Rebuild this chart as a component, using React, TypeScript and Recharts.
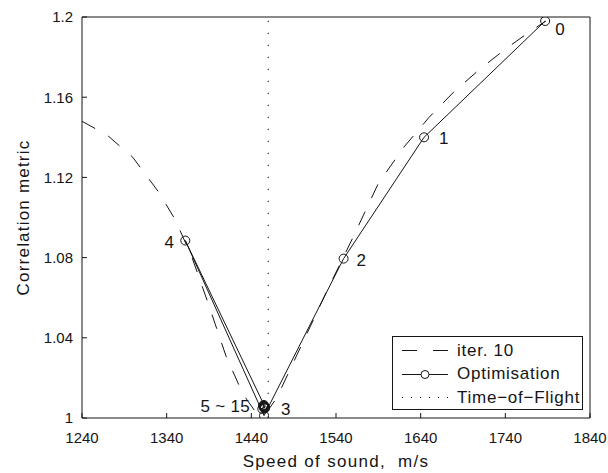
import { LineChart, Line, XAxis, YAxis, ReferenceLine, Legend, LabelList, Label } from 'recharts';

const FONT = "'Liberation Sans', Arial, Helvetica, sans-serif";
const INK = '#151515';

const xTicks = [1240, 1340, 1440, 1540, 1640, 1740, 1840];
const yTicks = [1, 1.04, 1.08, 1.12, 1.16, 1.2];

// metric sweep after 10 iterations (dashed curve)
const iterSpeed = [1240, 1270, 1300, 1330, 1350, 1370, 1390, 1410, 1430, 1445, 1455, 1470, 1500, 1530, 1560, 1590, 1620, 1650, 1680, 1710, 1740, 1770, 1788];
const iterMetric = [1.148, 1.141, 1.13, 1.113, 1.099, 1.08, 1.056, 1.031, 1.012, 1.003, 1.001, 1.01, 1.037, 1.064, 1.09, 1.117, 1.135, 1.15, 1.163, 1.174, 1.184, 1.193, 1.198];

// optimiser path, iterations 0..15
const optSpeed = [1787, 1644, 1549, 1455, 1362, 1455, 1453, 1456, 1455, 1454, 1456, 1455, 1455, 1454, 1456, 1455];
const optMetric = [1.198, 1.14, 1.0795, 1.0012, 1.0885, 1.0065, 1.0045, 1.0055, 1.005, 1.006, 1.0052, 1.0058, 1.0055, 1.0062, 1.0048, 1.0056];
const optLabels = ['0', '1', '2', '3', '4', '5 ~ 15', '', '', '', '', '', '', '', '', '', ''];

const tofSpeed = 1460;

const legendItems = [
  { name: 'iter. 10', kind: 'dashed' },
  { name: 'Optimisation', kind: 'marker' },
  { name: 'Time\u2212of\u2212Flight', kind: 'dotted' },
];

const iterData = iterSpeed.map((x, i) => ({ x, y: iterMetric[i] }));
const optData = optSpeed.map((x, i) => ({ x, y: optMetric[i], label: optLabels[i] }));

// where each iteration number sits relative to its marker
const labelPlacement: Record<number, { dx: number; dy: number; anchor: 'start' | 'end' }> = {
  0: { dx: 10, dy: 8, anchor: 'start' },
  1: { dx: 15, dy: 1, anchor: 'start' },
  2: { dx: 13, dy: 1, anchor: 'start' },
  3: { dx: 17, dy: -7, anchor: 'start' },
  4: { dx: -11, dy: 1, anchor: 'end' },
  5: { dx: -14, dy: 1, anchor: 'end' },
};

const PointLabel = (props: any) => {
  const { x, y, value, index } = props;
  const p = labelPlacement[index];
  if (!value || !p) return null;
  return (
    <text
      x={x + p.dx}
      y={y + p.dy}
      dy="0.36em"
      textAnchor={p.anchor}
      fontSize={17}
      letterSpacing={0.3}
      fontFamily={FONT}
      fill={INK}
    >
      {value}
    </text>
  );
};

const YTitle = (props: any) => {
  const { viewBox } = props;
  const cx = viewBox.x + 7;
  const cy = viewBox.y + viewBox.height / 2;
  return (
    <text
      x={cx}
      y={cy}
      transform={`rotate(-90 ${cx} ${cy})`}
      textAnchor="middle"
      fontSize={17}
      letterSpacing={1.2}
      fontFamily={FONT}
      fill={INK}
    >
      Correlation metric
    </text>
  );
};

const XTitle = (props: any) => {
  const { viewBox } = props;
  return (
    <text
      x={viewBox.x + viewBox.width / 2}
      y={viewBox.y + 49}
      textAnchor="middle"
      fontSize={17}
      letterSpacing={1.3}
      fontFamily={FONT}
      fill={INK}
      style={{ whiteSpace: 'pre' }}
    >
      {'Speed of sound,  m/s'}
    </text>
  );
};

const LegendBox = () => (
  <div
    style={{
      width: 191,
      height: 74,
      boxSizing: 'border-box',
      border: `1px solid ${INK}`,
      background: '#fff',
      paddingTop: 2,
      fontFamily: FONT,
      fontSize: 17,
      letterSpacing: 0.75,
      color: INK,
    }}
  >
    {legendItems.map((item) => (
      <div key={item.name} style={{ display: 'flex', alignItems: 'center', height: 23.5 }}>
        <svg width={64} height={21} style={{ flexShrink: 0 }}>
          {item.kind === 'dashed' && <line x1={9} x2={55} y1={10.5} y2={10.5} stroke={INK} strokeDasharray="15 16" />}
          {item.kind === 'marker' && (
            <>
              <line x1={9} x2={55} y1={10.5} y2={10.5} stroke={INK} />
              <circle cx={32} cy={10.5} r={4} fill="#fff" stroke={INK} />
            </>
          )}
          {item.kind === 'dotted' && <line x1={9} x2={55} y1={10.5} y2={10.5} stroke={INK} strokeDasharray="1 8" />}
        </svg>
        <span style={{ whiteSpace: 'nowrap' }}>{item.name}</span>
      </div>
    ))}
  </div>
);

const axisStroke = { stroke: INK, strokeWidth: 1 };
const tickStyle = { fontSize: 15, fontFamily: FONT, fill: INK };

export default function App() {
  return (
    <div style={{ position: 'absolute', left: 0, top: 0, width: 608, height: 473, background: '#fff' }}>
      <LineChart width={608} height={473} margin={{ top: 16, right: 17, bottom: 25, left: 22 }}>
        <XAxis
          dataKey="x"
          type="number"
          domain={[1240, 1840]}
          ticks={xTicks}
          allowDataOverflow
          tickSize={-5}
          tickMargin={19}
          height={30}
          axisLine={axisStroke}
          tickLine={axisStroke}
          tick={tickStyle}
        >
          <Label content={<XTitle />} />
        </XAxis>
        <XAxis
          xAxisId="top"
          orientation="top"
          type="number"
          domain={[1240, 1840]}
          ticks={xTicks}
          tickSize={-5}
          height={1}
          axisLine={axisStroke}
          tickLine={axisStroke}
          tick={false}
        />
        <YAxis
          type="number"
          domain={[1, 1.2]}
          ticks={yTicks}
          allowDataOverflow
          tickSize={-5}
          tickMargin={14}
          width={60}
          axisLine={axisStroke}
          tickLine={axisStroke}
          tick={tickStyle}
          tickFormatter={(v: number) => String(v)}
        >
          <Label content={<YTitle />} />
        </YAxis>
        <YAxis
          yAxisId="right"
          orientation="right"
          type="number"
          domain={[1, 1.2]}
          ticks={yTicks}
          tickSize={-5}
          width={1}
          axisLine={axisStroke}
          tickLine={axisStroke}
          tick={false}
        />
        <ReferenceLine x={tofSpeed} stroke="#333" strokeWidth={1.2} strokeDasharray="1.2 10.8" />
        <Line
          data={iterData}
          dataKey="y"
          type="linear"
          stroke={INK}
          strokeWidth={1}
          strokeDasharray="15 15"
          dot={false}
          activeDot={false}
          isAnimationActive={false}
        />
        <Line
          data={optData}
          dataKey="y"
          type="linear"
          stroke={INK}
          strokeWidth={1}
          dot={{ r: 4.5, fill: 'none', stroke: INK, strokeWidth: 1 }}
          activeDot={false}
          isAnimationActive={false}
        >
          <LabelList dataKey="label" content={<PointLabel />} />
        </Line>
        <Legend
          layout="vertical"
          align="center"
          verticalAlign="middle"
          content={<LegendBox />}
          wrapperStyle={{ left: 392, top: 336, width: 191, height: 74 }}
        />
      </LineChart>
    </div>
  );
}
